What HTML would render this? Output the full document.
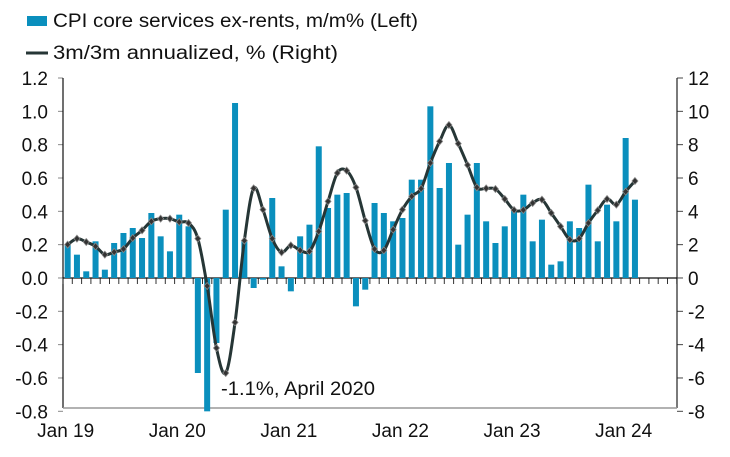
<!DOCTYPE html>
<html><head><meta charset="utf-8"><style>
body{margin:0;background:#fff;font-family:"Liberation Sans",sans-serif;}
svg text{font-family:"Liberation Sans",sans-serif;fill:#111;}
</style></head><body>
<svg width="730" height="452" viewBox="0 0 730 452">
<g>
<rect x="27" y="16" width="20" height="10" fill="#0a8fbd"/>
<text x="53" y="27" font-size="19" textLength="365" lengthAdjust="spacingAndGlyphs">CPI core services ex-rents, m/m% (Left)</text>
<line x1="26" y1="53" x2="48" y2="53" stroke="#263636" stroke-width="3"/>
<text x="53" y="59" font-size="19" textLength="285" lengthAdjust="spacingAndGlyphs">3m/3m annualized, % (Right)</text>
</g>
<g id="axes"></g>
<g id="bars"></g>
<g id="line"></g>
<text x="221" y="395" font-size="19" textLength="154" lengthAdjust="spacingAndGlyphs">-1.1%, April 2020</text>
</svg>
<script>
const barValues=[0.20,0.14,0.04,0.22,0.05,0.21,0.27,0.30,0.24,0.39,0.25,0.16,
0.38,0.31,-0.57,-1.1,-0.39,0.41,1.05,0.22,-0.06,-0.01,0.48,0.07,
-0.08,0.25,0.32,0.79,0.42,0.50,0.51,-0.17,-0.07,0.45,0.39,0.34,
0.36,0.59,0.59,1.03,0.54,0.69,0.20,0.38,0.69,0.34,0.21,0.31,
0.41,0.50,0.22,0.35,0.08,0.10,0.34,0.30,0.56,0.22,0.44,0.34,
0.84,0.47];
const lineValues=[2.0,2.36,2.16,1.9,1.4,1.56,1.74,2.4,2.86,3.4,3.56,3.56,
3.36,3.3,2.36,-0.48,-4.2,-5.7,-2.66,2.24,5.38,4.1,2.36,1.54,
1.96,1.66,1.6,2.8,4.6,6.3,6.44,5.44,3.44,1.74,1.66,2.9,
4.1,4.9,5.36,6.9,8.2,9.18,8.06,6.78,5.44,5.38,5.34,4.74,
4.08,4.08,4.5,4.7,3.9,3.1,2.3,2.36,3.3,4.06,4.74,4.4,
5.18,5.82];
const leftTicks=["1.2","1.0","0.8","0.6","0.4","0.2","0.0","-0.2","-0.4","-0.6","-0.8"];
const rightTicks=["12","10","8","6","4","2","0","-2","-4","-6","-8"];
const xLabels=["Jan 19","Jan 20","Jan 21","Jan 22","Jan 23","Jan 24"];
const NS="http://www.w3.org/2000/svg";
const X0=63,X1=677,SLOT=9.3,NSLOT=66;
const yL=v=>278-v*166.67;
const yR=v=>278-v*16.667;
const xC=i=>X0+SLOT*(i+0.5);
function mk(t,a,p){const e=document.createElementNS(NS,t);for(const k in a)e.setAttribute(k,a[k]);p.appendChild(e);return e;}
const ax=document.getElementById('axes');
leftTicks.forEach((t,i)=>{const y=78+i*33.33;
const tx=mk('text',{x:48,y:y+7,'font-size':19,'text-anchor':'end'},ax);tx.textContent=t;


mk('line',{x1:58,x2:63,y1:y,y2:y,stroke:'#888'},ax);});
rightTicks.forEach((t,i)=>{const y=78+i*33.33;
const tx=mk('text',{x:688,y:y+7,'font-size':19},ax);tx.textContent=t;


mk('line',{x1:677,x2:683,y1:y,y2:y,stroke:'#444'},ax);});
mk('line',{x1:63,x2:63,y1:78,y2:408,stroke:'#111','stroke-width':1.2},ax);
mk('line',{x1:677,x2:677,y1:78,y2:408,stroke:'#222','stroke-width':1.2},ax);
mk('line',{x1:63,x2:677,y1:408,y2:408,stroke:'#999','stroke-width':1.5},ax);
for(let i=0;i<=NSLOT;i++){mk('line',{x1:X0+i*SLOT,x2:X0+i*SLOT,y1:278,y2:284,stroke:'#333'},ax);}
xLabels.forEach((t,i)=>{const tx=mk('text',{x:xC(i*12)-2,y:437,'font-size':19,'text-anchor':'middle'},ax);tx.textContent=t;

});
const bg=document.getElementById('bars');
barValues.forEach((v,i)=>{let vv=Math.max(v,-0.8);const y=Math.min(yL(0),yL(vv));const h=Math.abs(yL(vv)-yL(0));
const r=mk('rect',{x:xC(i)-3,y:y,width:6,height:h,fill:'#0a8fbd'},bg);

});
mk('line',{x1:63,x2:677,y1:278,y2:278,stroke:'#111','stroke-width':1.3},ax);
const pts=lineValues.map((v,i)=>[xC(i),yR(v)]);
let d=`M${pts[0][0]},${pts[0][1]}`;
for(let i=0;i<pts.length-1;i++){const p0=pts[Math.max(i-1,0)],p1=pts[i],p2=pts[i+1],p3=pts[Math.min(i+2,pts.length-1)];
d+=` C${p1[0]+(p2[0]-p0[0])/6},${p1[1]+(p2[1]-p0[1])/6} ${p2[0]-(p3[0]-p1[0])/6},${p2[1]-(p3[1]-p1[1])/6} ${p2[0]},${p2[1]}`;}
const lg=document.getElementById('line');
const path=mk('path',{d:d,fill:'none',stroke:'#263636','stroke-width':3},lg);


pts.forEach(p=>{const m=mk('path',{d:`M${p[0]},${p[1]-3.5}L${p[0]+3},${p[1]}L${p[0]},${p[1]+3.5}L${p[0]-3},${p[1]}Z`,fill:'#333',stroke:'#888','stroke-width':0.8},lg);

});
</script>
</body></html>
